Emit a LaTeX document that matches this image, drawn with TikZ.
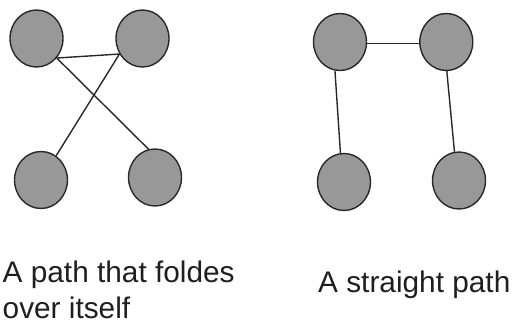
\documentclass[tikz,border=0pt]{standalone}
\usepackage{fontspec}
\setmainfont{Liberation Sans}
\usetikzlibrary{shapes.geometric}
\definecolor{vertexfill}{RGB}{152,152,152}
\definecolor{vertexline}{RGB}{40,40,40}
\tikzset{
  vertex/.style={ellipse, draw=vertexline, fill=vertexfill, line width=1.4pt,
    minimum width=53pt, minimum height=57pt, inner sep=0pt},
  edge/.style={draw=vertexline, line width=1.4pt},
  caption/.style={inner sep=0pt, font=\fontsize{29.8}{37}\selectfont, text=black!88}
}
\begin{document}
\begin{tikzpicture}[x=1pt, y=-1pt]
  \useasboundingbox (0,0) rectangle (513,321);
  % folded path
  \node[vertex] (a) at (36.5,38.5) {};
  \node[vertex] (b) at (142.5,38.5) {};
  \node[vertex] (c) at (41,180) {};
  \node[vertex] (d) at (155,177.5) {};
  \draw[edge] (a.-44) -- (b.-146);
  \draw[edge] (a.-44) -- (d.103);
  \draw[edge] (b.-146) -- (c.58);
  % straight path
  \node[vertex] (e) at (340,42) {};
  \node[vertex] (f) at (446.3,42) {};
  \node[vertex] (g) at (344,182) {};
  \node[vertex] (h) at (459,180.5) {};
  \draw[edge] (e.-3) -- (f.183);
  \draw[edge] (e.-100) -- (g.97);
  \draw[edge] (f.-89) -- (h.99);
  % captions
  \node[caption, anchor=base west] (capa) at (2.5,282) {A path that foldes};
  \node[caption, anchor=base west] (capa2) at (2.5,318) {over itself};
  \node[caption, anchor=base west] (capb) at (318,292) {A straight path};
\end{tikzpicture}
\end{document}
